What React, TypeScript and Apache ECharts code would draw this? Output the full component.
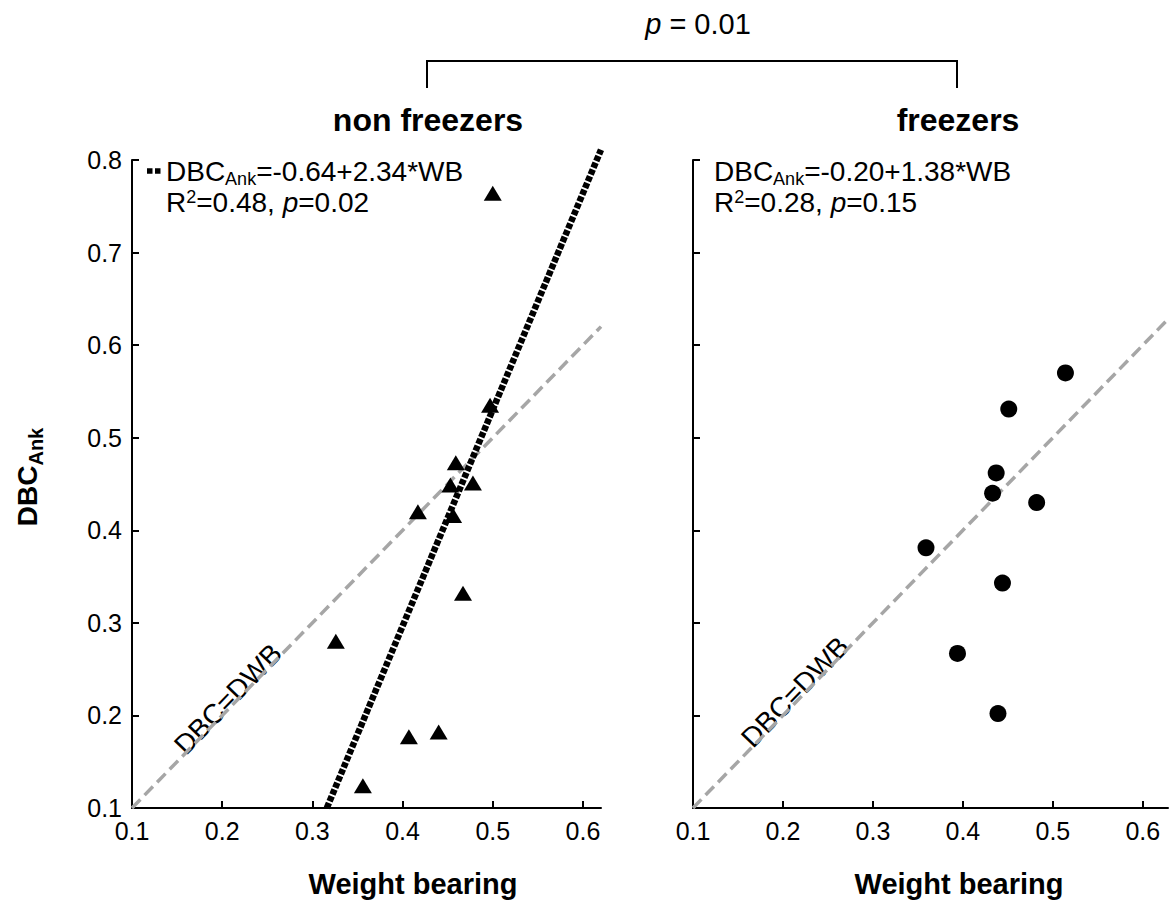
import React, { useEffect, useRef } from "react";
import * as echarts from "echarts";

// ---- data ----
const xTicks = [0.1, 0.2, 0.3, 0.4, 0.5, 0.6];
const yTicks = [0.1, 0.2, 0.3, 0.4, 0.5, 0.6, 0.7, 0.8];

const nonFreezersWB = [0.5, 0.459, 0.453, 0.478, 0.417, 0.456, 0.467, 0.326, 0.407, 0.44, 0.356, 0.497];
const nonFreezersDBC = [0.764, 0.473, 0.449, 0.451, 0.42, 0.416, 0.332, 0.28, 0.177, 0.182, 0.124, 0.535];

const freezersWB = [0.514, 0.451, 0.437, 0.433, 0.482, 0.359, 0.444, 0.394, 0.439];
const freezersDBC = [0.57, 0.531, 0.462, 0.44, 0.43, 0.381, 0.343, 0.267, 0.202];

// regression line end points for non freezers (as drawn)
const nonFreezersFitWB = [0.316, 0.62];
const nonFreezersFitDBC = [0.1, 0.811];

// identity (DBC = DWB) line ends
const identityLeft = [0.1, 0.62];
const identityRight = [0.1, 0.628];

const FONT = "'Liberation Sans', Arial, Helvetica, sans-serif";

type Seg = { t: string; size: number; dy?: number; italic?: boolean; bold?: boolean };

let measureCtx: CanvasRenderingContext2D | null = null;
function segFont(s: Seg) {
  return `${s.italic ? "italic " : ""}${s.bold ? "bold " : ""}${s.size}px ${FONT}`;
}
function measure(s: Seg) {
  if (!measureCtx) measureCtx = document.createElement("canvas").getContext("2d");
  if (!measureCtx) return s.t.length * s.size * 0.55;
  measureCtx.font = segFont(s);
  return measureCtx.measureText(s.t).width;
}
function lineWidth(segs: Seg[]) {
  return segs.reduce((w, s) => w + measure(s), 0);
}
// lays out text pieces on a common baseline; each piece is its own text element
function textRun(segs: Seg[], x0: number, baseline: number): any[] {
  let x = x0;
  return segs.map((s) => {
    const el = {
      type: "text",
      x,
      y: baseline + (s.dy || 0) - 0.3465 * s.size,
      silent: true,
      style: {
        text: s.t,
        fontSize: s.size,
        fontStyle: s.italic ? "italic" : "normal",
        fontWeight: s.bold ? "bold" : "normal",
        fontFamily: FONT,
        fill: "#000",
        textAlign: "left",
        textVerticalAlign: "middle",
      },
    };
    x += measure(s);
    return el;
  });
}

function makeAxes(max: number, grid: number, showYLabels: boolean) {
  const line = { show: true, onZero: false, lineStyle: { color: "#000", width: 2 } };
  const tick = (vals: number[]) => ({
    show: true,
    inside: true,
    length: 7,
    lineStyle: { color: "#000", width: 2 },
    customValues: vals,
  });
  const label = (vals: number[], show: boolean) => ({
    show,
    customValues: vals,
    formatter: (v: number) => v.toFixed(1),
    fontSize: 25,
    color: "#000",
    fontFamily: FONT,
    margin: 10,
  });
  const x = {
    type: "value",
    gridIndex: grid,
    min: 0.1,
    max,
    axisLine: line,
    axisTick: tick(xTicks),
    axisLabel: label(xTicks, true),
    splitLine: { show: false },
  };
  const y = {
    type: "value",
    gridIndex: grid,
    min: 0.1,
    max: 0.8,
    axisLine: line,
    axisTick: tick(yTicks),
    axisLabel: label(yTicks, showYLabels),
    splitLine: { show: false },
  };
  return { x, y };
}

export default function App() {
  const ref = useRef<HTMLDivElement>(null);

  useEffect(() => {
    if (!ref.current) return;
    const chart = echarts.init(ref.current, undefined, { renderer: "svg" });

    const left = makeAxes(0.62, 0, true);
    const right = makeAxes(0.628, 1, false);

    const pair = (xs: number[], ys: number[]) => xs.map((x, i) => [x, ys[i]]);

    const identityStyle = { color: "#a6a6a6", width: 3.5, type: [12, 6] };

    const EQ = 28;
    const SUB = 18;
    const eqLine1 = (rest: string): Seg[] => [
      { t: "DBC", size: EQ },
      { t: "Ank", size: SUB, dy: 4 },
      { t: rest, size: EQ },
    ];
    const eqLine2 = (r2: string, p: string): Seg[] => [
      { t: "R", size: EQ },
      { t: "2", size: SUB, dy: -9 },
      { t: "=" + r2 + ", ", size: EQ },
      { t: "p", size: EQ, italic: true },
      { t: "=" + p, size: EQ },
    ];

    const pSegs: Seg[] = [
      { t: "p", size: 29, italic: true },
      { t: " = 0.01", size: 29 },
    ];
    const pW = lineWidth(pSegs);

    const yTitleSegs: Seg[] = [
      { t: "DBC", size: 28, bold: true },
      { t: "Ank", size: 20, bold: true, dy: 6 },
    ];
    const yTitleW = lineWidth(yTitleSegs);

    const option: any = {
      animation: false,
      backgroundColor: "#fff",
      grid: [
        { left: 132, top: 160, width: 469, height: 648, containLabel: false },
        { left: 693, top: 160, width: 475, height: 648, containLabel: false },
      ],
      xAxis: [left.x, right.x],
      yAxis: [left.y, right.y],
      series: [
        {
          type: "line",
          xAxisIndex: 0,
          yAxisIndex: 0,
          data: pair(identityLeft, identityLeft),
          symbol: "none",
          silent: true,
          lineStyle: identityStyle,
          z: 1,
        },
        {
          type: "scatter",
          xAxisIndex: 0,
          yAxisIndex: 0,
          data: pair(nonFreezersWB, nonFreezersDBC),
          symbol: "triangle",
          symbolSize: [18, 15],
          itemStyle: { color: "#000", opacity: 1 },
          silent: true,
          z: 2,
        },
        {
          type: "line",
          xAxisIndex: 0,
          yAxisIndex: 0,
          data: pair(nonFreezersFitWB, nonFreezersFitDBC),
          symbol: "none",
          silent: true,
          clip: false,
          lineStyle: { color: "#000", width: 6.5, type: [5.5, 1.8], cap: "butt" },
          z: 3,
        },
        {
          type: "line",
          xAxisIndex: 1,
          yAxisIndex: 1,
          data: pair(identityRight, identityRight),
          symbol: "none",
          silent: true,
          lineStyle: identityStyle,
          z: 1,
        },
        {
          type: "scatter",
          xAxisIndex: 1,
          yAxisIndex: 1,
          data: pair(freezersWB, freezersDBC),
          symbol: "circle",
          symbolSize: 17,
          itemStyle: { color: "#000", opacity: 1 },
          silent: true,
          z: 2,
        },
      ],
      graphic: [
        // significance bracket
        {
          type: "polyline",
          shape: { points: [[427, 88], [427, 61], [957, 61], [957, 88]] },
          style: { stroke: "#000", lineWidth: 2, fill: "none" },
          silent: true,
        },
        ...textRun(pSegs, 698 - pW / 2, 34),
        // panel titles
        {
          type: "text",
          x: 428,
          y: 120,
          style: { text: "non freezers", fontSize: 32, fontWeight: "bold", fontFamily: FONT, fill: "#000", textAlign: "center", textVerticalAlign: "middle" },
          silent: true,
        },
        {
          type: "text",
          x: 958,
          y: 120,
          style: { text: "freezers", fontSize: 32, fontWeight: "bold", fontFamily: FONT, fill: "#000", textAlign: "center", textVerticalAlign: "middle" },
          silent: true,
        },
        // x-axis titles
        {
          type: "text",
          x: 413,
          y: 884,
          style: { text: "Weight bearing", fontSize: 29, fontWeight: "bold", fontFamily: FONT, fill: "#000", textAlign: "center", textVerticalAlign: "middle" },
          silent: true,
        },
        {
          type: "text",
          x: 959,
          y: 884,
          style: { text: "Weight bearing", fontSize: 29, fontWeight: "bold", fontFamily: FONT, fill: "#000", textAlign: "center", textVerticalAlign: "middle" },
          silent: true,
        },
        // y-axis title (rotated group)
        {
          type: "group",
          x: 37,
          y: 477,
          rotation: Math.PI / 2,
          silent: true,
          children: textRun(yTitleSegs, -yTitleW / 2, 0),
        },
        // legend sample of the regression line
        {
          type: "line",
          shape: { x1: 147, y1: 171, x2: 161, y2: 171 },
          style: { stroke: "#000", lineWidth: 5.5, lineDash: [5.5, 2.5] },
          silent: true,
        },
        // equations
        ...textRun(eqLine1("=-0.64+2.34*WB"), 166, 181),
        ...textRun(eqLine2("0.48", "0.02"), 166, 212),
        ...textRun(eqLine1("=-0.20+1.38*WB"), 714, 181),
        ...textRun(eqLine2("0.28", "0.15"), 714, 212),
        // identity line labels
        {
          type: "text",
          x: 228,
          y: 699,
          rotation: (46 * Math.PI) / 180,
          style: { text: "DBC=DWB", fontSize: 28, fontFamily: FONT, fill: "#000", textAlign: "center", textVerticalAlign: "middle" },
          silent: true,
        },
        {
          type: "text",
          x: 795,
          y: 692,
          rotation: (46 * Math.PI) / 180,
          style: { text: "DBC=DWB", fontSize: 28, fontFamily: FONT, fill: "#000", textAlign: "center", textVerticalAlign: "middle" },
          silent: true,
        },
      ],
    };

    chart.setOption(option);
    return () => chart.dispose();
  }, []);

  return <div ref={ref} style={{ position: "absolute", left: 0, top: 0, width: 1170, height: 900 }} />;
}
